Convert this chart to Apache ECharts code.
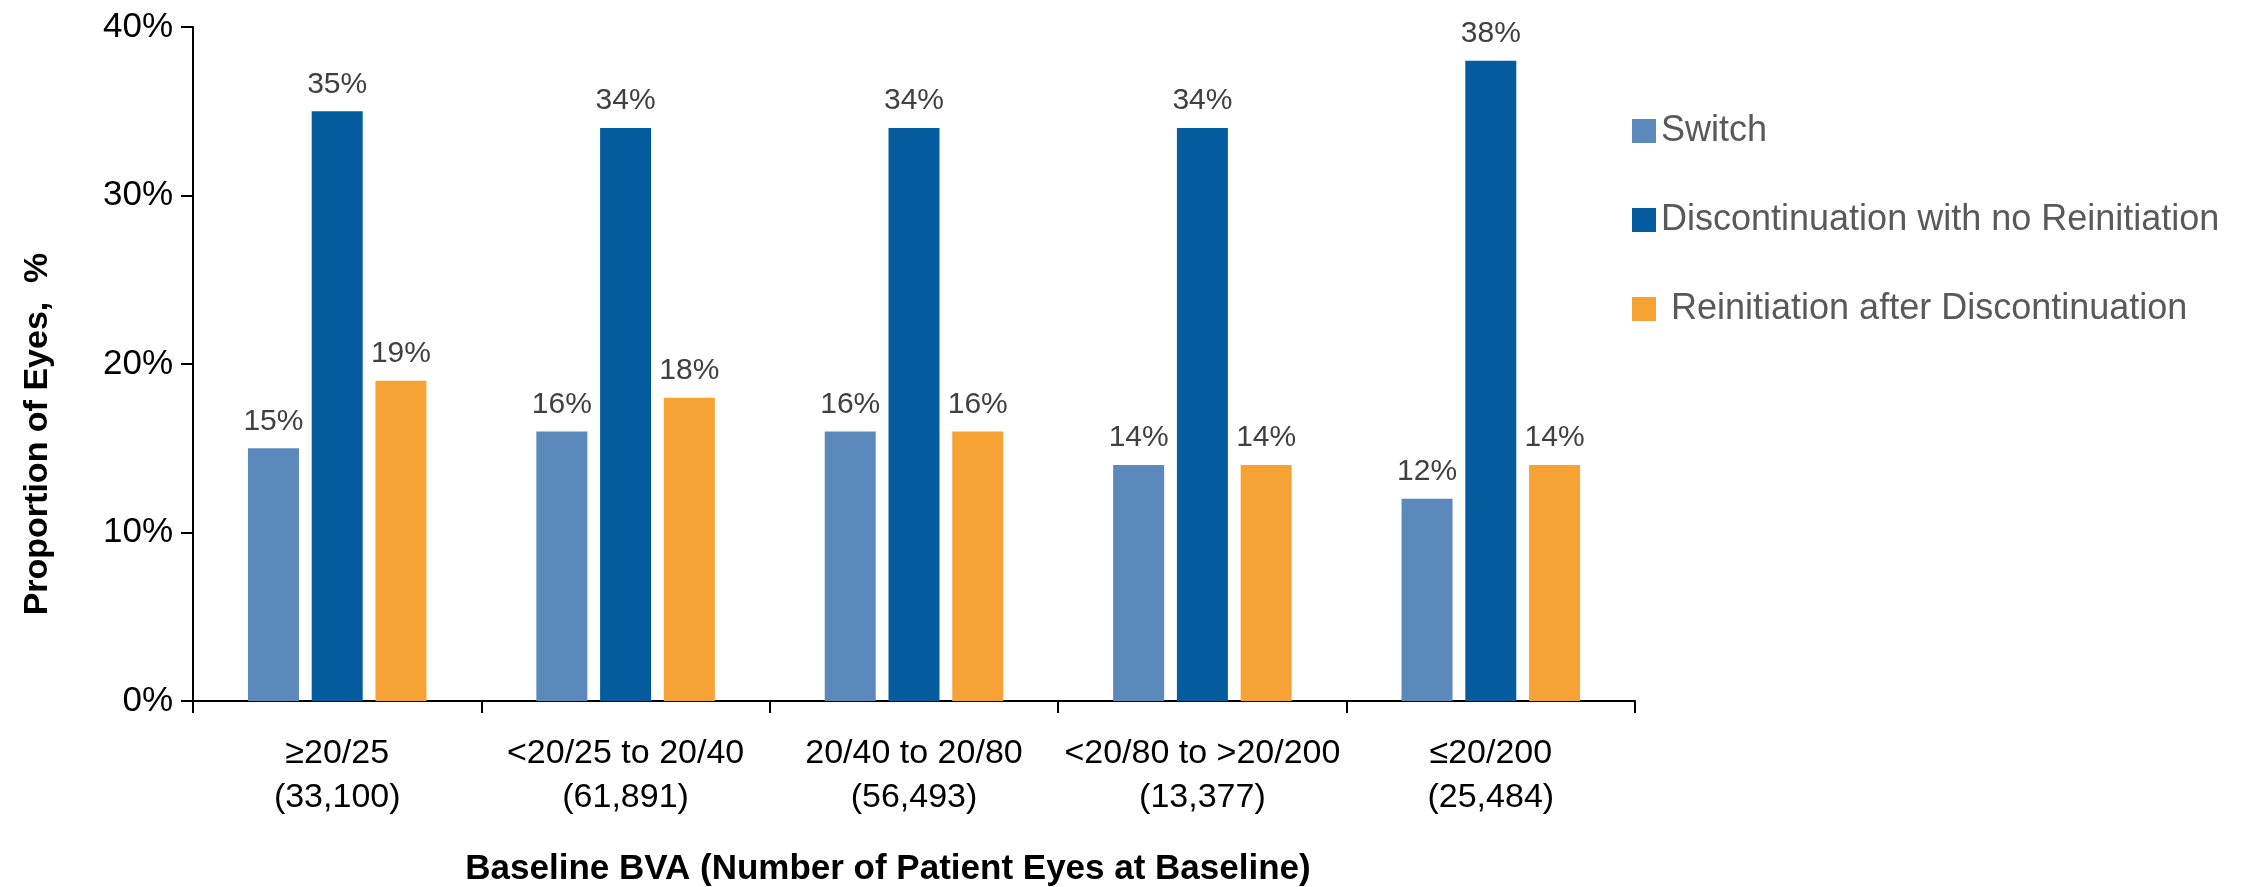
<!DOCTYPE html>
<html>
<head>
<meta charset="utf-8">
<script src="https://cdn.jsdelivr.net/npm/echarts@6/dist/echarts.min.js"></script>
<style>
html, body { margin: 0; padding: 0; background: #fff; }
#chart { width: 2245px; height: 887px; }
</style>
</head>
<body>
<div id="chart"></div>
<script>
// categories: baseline BVA with patient eye counts
const categories = [
    '≥20/25\n(33,100)',
    '<20/25 to 20/40\n(61,891)',
    '20/40 to 20/80\n(56,493)',
    '<20/80 to >20/200\n(13,377)',
    '≤20/200\n(25,484)'
]
const seriesNames = ['Switch', 'Discontinuation with no Reinitiation', ' Reinitiation after Discontinuation']
const switchData = [15, 16, 16, 14, 12]
const discData = [35, 34, 34, 34, 38]
const reinitData = [19, 18, 16, 14, 14]
const yTicks = [0, 10, 20, 30, 40]

// no narrow font available, Liberation Sans (Arial metrics) at a smaller size
const FONT = '"Liberation Sans", Arial, sans-serif'
const colors = ['#5b89bc', '#045c9e', '#f7a234']

const chart = echarts.init(document.getElementById('chart'))

const labelStyle = {
    show: true,
    position: 'top',
    distance: 12,
    color: '#404040',
    fontFamily: FONT,
    fontSize: 30,
    formatter: '{c}%'
}

function makeBar(name, data, color) {
    return {
        name: name,
        type: 'bar',
        barWidth: 51,
        barGap: '25%',
        itemStyle: { color: color },
        label: labelStyle,
        data: data
    }
}

chart.setOption({
    animation: false,
    backgroundColor: '#fff',
    textStyle: { fontFamily: FONT },
    // keep the plot box fixed, don't let v6 shrink it to fit the axis name
    grid: { left: 193, right: 610, top: 27, bottom: 186, containLabel: false, outerBoundsMode: 'none' },
    legend: {
        orient: 'vertical',
        left: 1627,
        top: 104,
        itemWidth: 24,
        itemHeight: 24,
        itemGap: 45,
        icon: 'rect',
        data: seriesNames,
        textStyle: { color: '#595959', fontSize: 36, lineHeight: 44, fontFamily: FONT }
    },
    xAxis: {
        type: 'category',
        data: categories,
        name: 'Baseline BVA (Number of Patient Eyes at Baseline)',
        nameLocation: 'middle',
        nameGap: 151,
        nameTextStyle: { color: '#000', fontWeight: 'bold', fontSize: 35, fontFamily: FONT, padding: [0, 52, 0, 0] },
        axisLine: { lineStyle: { color: '#000', width: 2 } },
        axisTick: { show: true, alignWithLabel: false, length: 12, lineStyle: { color: '#000', width: 2 } },
        axisLabel: { color: '#000', fontSize: 34, lineHeight: 44, margin: 31, interval: 0, fontFamily: FONT }
    },
    yAxis: {
        type: 'value',
        min: yTicks[0],
        max: yTicks[yTicks.length - 1],
        interval: 10,
        name: 'Proportion of Eyes,  %',
        nameLocation: 'middle',
        nameGap: 138,
        // name sits below the axis middle in the original
        nameTextStyle: { color: '#000', fontWeight: 'bold', fontSize: 34, fontFamily: FONT, padding: [0, 140, 0, 0] },
        splitLine: { show: false },
        axisLine: { show: true, lineStyle: { color: '#000', width: 2 } },
        axisTick: { show: true, length: 12, lineStyle: { color: '#000', width: 2 } },
        axisLabel: { color: '#000', fontSize: 35, margin: 20, formatter: '{value}%', fontFamily: FONT }
    },
    series: [
        makeBar(seriesNames[0], switchData, colors[0]),
        makeBar(seriesNames[1], discData, colors[1]),
        makeBar(seriesNames[2], reinitData, colors[2])
    ]
})
</script>
</body>
</html>
